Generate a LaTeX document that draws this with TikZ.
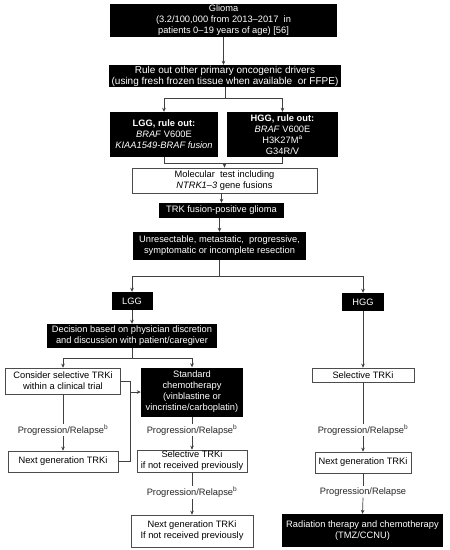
\documentclass[tikz,border=0pt]{standalone}
\usepackage{fontspec}
\setmainfont{Liberation Sans}
\usetikzlibrary{arrows.meta}
\newcommand\myfs{\fontsize{9.3}{11}\selectfont}
\newcommand\myfsb{\fontsize{10}{11}\selectfont}
\tikzset{
  bb/.style={fill=black, text=white, align=center, inner sep=0pt, font=\myfs},
  wb/.style={draw=black!70, line width=0.7pt, fill=white, text=black, align=center, inner sep=0pt, font=\myfs},
  lab/.style={inner sep=1pt, font=\myfs, text=black!85},
  conn/.style={draw=black!75, line width=0.7pt},
  arr/.style={conn, -{Stealth[length=4pt,width=3.6pt]}}
}
\begin{document}
\begin{tikzpicture}[x=1pt,y=-1pt]
\useasboundingbox (0,0) rectangle (450,550);
\fill[white] (0,0) rectangle (450,550);
% top chain
\node[bb, minimum width=227pt, minimum height=33pt] (glioma) at (223.5,20.5)
  {Glioma\\(3.2/100,000 from 2013--2017 \ in\\patients 0--19 years of age) [56]};
\node[bb, minimum width=232pt, minimum height=22pt, font=\myfsb] (ruleout) at (225,76)
  {Rule out other primary oncogenic drivers\\(using fresh frozen tissue when available \ or FFPE)};
\node[bb, minimum width=108pt, minimum height=45pt] (lggro) at (164,134.5)
  {\textbf{LGG, rule out:}\\\textit{BRAF} V600E\\\textit{KIAA1549-BRAF fusion}};
\node[bb, minimum width=111pt, minimum height=45pt, font=\fontsize{9.3}{10.8}\selectfont] (hggro) at (282.5,134.5)
  {\textbf{HGG, rule out:}\\\textit{BRAF} V600E\\H3K27M\textsuperscript{a}\\G34R/V};
\node[wb, minimum width=185pt, minimum height=25pt] (molecular) at (224.5,180.5)
  {Molecular \ test including\\\textit{NTRK1--3} gene fusions};
\node[bb, minimum width=125pt, minimum height=15pt] (trk) at (221.5,210.5)
  {TRK fusion-positive glioma};
\node[bb, minimum width=173pt, minimum height=28pt] (unres) at (219.5,246)
  {Unresectable, metastatic, \ progressive,\\symptomatic or incomplete resection};
\node[bb, minimum width=41pt, minimum height=18pt] (lgg) at (132,301) {LGG};
\node[bb, minimum width=42pt, minimum height=18pt] (hgg) at (363,302) {HGG};
\node[bb, minimum width=170pt, minimum height=24pt] (decision) at (132,336)
  {Decision based on physician discretion\\and discussion with patient/caregiver};
% left column
\node[wb, minimum width=115pt, minimum height=26pt] (consider) at (63,381)
  {Consider selective TRKi\\within a clinical trial};
\node[lab] (labL) at (63,430) {Progression/Relapse\textsuperscript{b}};
\node[wb, minimum width=110pt, minimum height=21pt] (nextL) at (63,461.5)
  {Next generation TRKi};
% middle column
\node[bb, minimum width=102pt, minimum height=49pt] (standard) at (192,392)
  {Standard\\chemotherapy\\(vinblastine or\\vincristine/carboplatin)};
\node[lab] (labM1) at (192,430) {Progression/Relapse\textsuperscript{b}};
\node[wb, minimum width=110pt, minimum height=22pt] (selM) at (192,461)
  {Selective TRKi\\if not received previously};
\node[lab] (labM2) at (192,492.5) {Progression/Relapse\textsuperscript{b}};
\node[wb, minimum width=122pt, minimum height=32pt] (nextM) at (192,531)
  {Next generation TRKi\\If not received previously};
% right column
\node[wb, minimum width=102pt, minimum height=14pt] (selR) at (363,375)
  {Selective TRKi};
\node[lab] (labR1) at (363,430) {Progression/Relapse\textsuperscript{b}};
\node[wb, minimum width=96pt, minimum height=21pt] (nextR) at (363,462.5)
  {Next generation TRKi};
\node[lab] (labR2) at (363,492) {Progression/Relapse};
\node[bb, minimum width=161pt, minimum height=33pt] (rad) at (362.5,530.5)
  {Radiation therapy and chemotherapy\\(TMZ/CCNU)};
% connectors
\draw[arr] (glioma.south) -- (glioma.south |- ruleout.north);
\path (ruleout.south) ++(0,11) coordinate (j1);
\draw[conn] (ruleout.south) -- (j1);
\draw[conn] (j1 -| lggro.north) -- (j1 -| hggro.north);
\draw[arr] (j1 -| lggro.north) -- (lggro.north);
\draw[arr] (j1 -| hggro.north) -- (hggro.north);
\path (lggro.south) ++(0,6) coordinate (j2);
\draw[conn] (lggro.south) -- (j2) -- (j2 -| hggro.south) -- (hggro.south);
\draw[arr] (j2 -| molecular.north) -- (molecular.north);
\draw[arr] (trk.north |- molecular.south) -- (trk.north);
\draw[arr] (unres.north |- trk.south) -- (unres.north);
\path (unres.south) ++(0,16) coordinate (j3);
\draw[conn] (unres.south) -- (j3);
\draw[conn] (j3 -| lgg.north) -- (j3 -| hgg.north);
\draw[arr] (j3 -| lgg.north) -- (lgg.north);
\draw[arr] (j3 -| hgg.north) -- (hgg.north);
\draw[arr] (lgg.south) -- (decision.north);
\path (decision.south) ++(0,10) coordinate (j4);
\draw[conn] (decision.south) -- (j4);
\draw[conn] (j4 -| consider.north) -- (j4 -| standard.north);
\draw[arr] (j4 -| consider.north) -- (consider.north);
\draw[arr] (j4 -| standard.north) -- (standard.north);
\draw[conn] (consider.east) -- ++(9.5,0) coordinate (k1) |- (nextL.east);
\draw[arr] (k1 |- standard.west) -- (standard.west);
\draw[conn] (consider.south) -- (labL.north);
\draw[arr] (labL.south) -- (nextL.north);
\draw[conn] (standard.south) -- (labM1.north);
\draw[arr] (labM1.south) -- (selM.north);
\draw[conn] (selM.south) -- (labM2.north);
\draw[arr] (labM2.south) -- (nextM.north);
\draw[arr] (hgg.south) -- (selR.north);
\draw[conn] (selR.south) -- (labR1.north);
\draw[arr] (labR1.south) -- (nextR.north);
\draw[conn] (nextR.south) -- (labR2.north);
\draw[arr] (labR2.south) -- (rad.north);
\end{tikzpicture}
\end{document}
